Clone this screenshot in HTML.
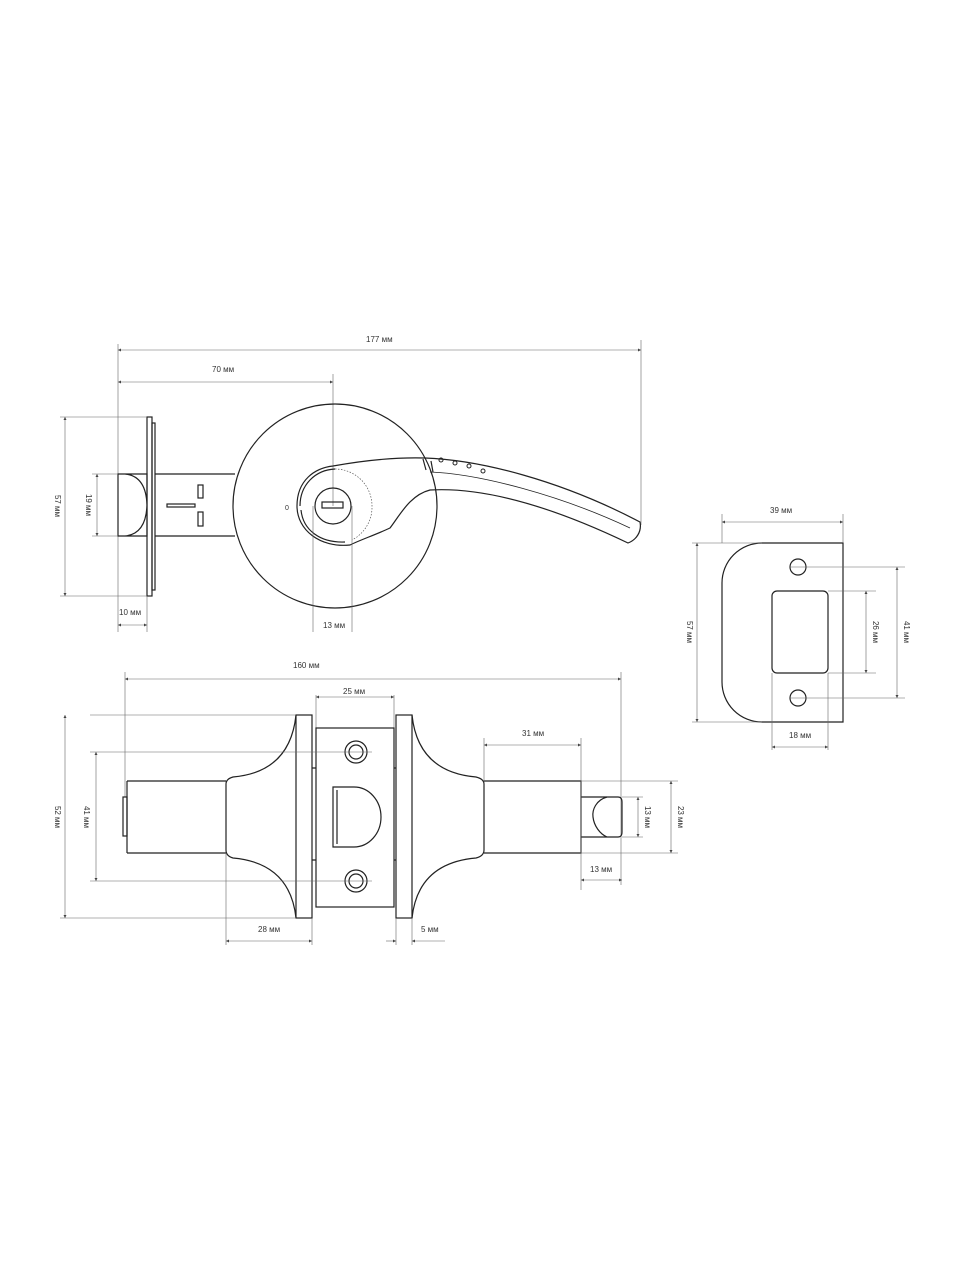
<!DOCTYPE html>
<html><head><meta charset="utf-8"><style>
html,body{margin:0;padding:0;background:#fff;}
svg{display:block;}
text{font-family:"Liberation Sans",sans-serif;font-size:8px;fill:#333;}
.o{fill:none;stroke:#222;stroke-width:1.2;}
.d{fill:none;stroke:#666;stroke-width:0.6;}
</style></head><body>
<svg width="960" height="1280" viewBox="0 0 960 1280" xmlns="http://www.w3.org/2000/svg">
<defs><marker id="a" viewBox="0 0 6 6" refX="6" refY="3" markerWidth="5" markerHeight="5" orient="auto-start-reverse"><path d="M0,0L6,3L0,6z" fill="#444"/></marker></defs>

<!-- TOP VIEW -->
<line class="d" x1="118" y1="350" x2="641" y2="350" marker-start="url(#a)" marker-end="url(#a)"/>
<text x="366" y="342">177 мм</text>
<line class="d" x1="118" y1="382" x2="333" y2="382" marker-start="url(#a)" marker-end="url(#a)"/>
<text x="212" y="372">70 мм</text>
<line class="d" x1="118" y1="344" x2="118" y2="632"/>
<line class="d" x1="641" y1="340" x2="641" y2="525"/>
<line class="d" x1="333" y1="374" x2="333" y2="506"/>
<ellipse class="o" cx="335" cy="506" rx="102" ry="102"/>
<rect class="o" x="147" y="417" width="5" height="179"/>
<rect class="o" x="152" y="423" width="3" height="167"/>
<path class="o" d="M155,474H235M155,536H235"/>
<path class="o" d="M118,474H147V536H118ZM125,474Q146,476 147,505Q146,534 125,536"/>
<rect class="o" x="198" y="485" width="5" height="13"/>
<rect class="o" x="198" y="512" width="5" height="14"/>
<rect class="o" x="167" y="504" width="28" height="3"/>
<text x="285" y="510" style="font-size:7px">0</text>
<path class="o" d="M333,466C355,462 390,457 425,458C480,460 560,480 640,522C642,532 636,540 628,543C580,520 500,486 430,490C410,495 400,515 390,528C375,535 360,540 350,545C320,548 297,530 297,506C297,480 315,468 333,466Z"/>
<path class="o" d="M300,506C300,485 315,470 335,469"/>
<path class="o" d="M301,510C303,530 320,543 345,542"/>
<path class="o" d="M430,472C480,474 560,495 630,528" style="stroke-width:0.8"/>
<path d="M335,469A37,37 0 0 1 372,506A37,37 0 0 1 352,540" fill="none" stroke="#555" stroke-width="0.7" stroke-dasharray="1.5 1.5"/>
<circle class="o" cx="333" cy="506" r="18"/>
<rect class="o" x="322" y="502" width="21" height="6"/>
<path class="o" d="M423,459L426,470M431,461L433,472"/>
<g fill="none" stroke="#222" stroke-width="1"><circle cx="441" cy="460" r="2"/><circle cx="455" cy="463" r="2"/><circle cx="469" cy="466" r="2"/><circle cx="483" cy="471" r="2"/></g>
<line class="d" x1="60" y1="417" x2="147" y2="417"/><line class="d" x1="60" y1="596" x2="147" y2="596"/>
<line class="d" x1="65" y1="417" x2="65" y2="596" marker-start="url(#a)" marker-end="url(#a)"/>
<text transform="translate(55,506) rotate(90)" text-anchor="middle">57 мм</text>
<line class="d" x1="92" y1="474" x2="118" y2="474"/><line class="d" x1="92" y1="536" x2="118" y2="536"/>
<line class="d" x1="97" y1="474" x2="97" y2="536" marker-start="url(#a)" marker-end="url(#a)"/>
<text transform="translate(86,505) rotate(90)" text-anchor="middle">19 мм</text>
<line class="d" x1="147" y1="596" x2="147" y2="632"/>
<line class="d" x1="118" y1="625" x2="147" y2="625" marker-start="url(#a)" marker-end="url(#a)"/>
<text x="119" y="615">10 мм</text>
<line class="d" x1="313" y1="506" x2="313" y2="632"/><line class="d" x1="352" y1="506" x2="352" y2="632"/>
<text x="323" y="628">13 мм</text>

<!-- STRIKE PLATE -->
<path class="o" d="M762,543H843V722H762A40,40 0 0 1 722,682V583A40,40 0 0 1 762,543Z"/>
<circle class="o" cx="798" cy="567" r="8"/><circle class="o" cx="798" cy="698" r="8"/>
<rect class="o" x="772" y="591" width="56" height="82" rx="5"/>
<line class="d" x1="722" y1="514" x2="722" y2="543"/><line class="d" x1="843" y1="514" x2="843" y2="543"/>
<line class="d" x1="722" y1="522" x2="843" y2="522" marker-start="url(#a)" marker-end="url(#a)"/>
<text x="770" y="513">39 мм</text>
<line class="d" x1="692" y1="543" x2="762" y2="543"/><line class="d" x1="692" y1="722" x2="762" y2="722"/>
<line class="d" x1="697" y1="543" x2="697" y2="722" marker-start="url(#a)" marker-end="url(#a)"/>
<text transform="translate(687,632) rotate(90)" text-anchor="middle">57 мм</text>
<line class="d" x1="828" y1="591" x2="876" y2="591"/><line class="d" x1="828" y1="673" x2="876" y2="673"/>
<line class="d" x1="866" y1="591" x2="866" y2="673" marker-start="url(#a)" marker-end="url(#a)"/>
<text transform="translate(873,632) rotate(90)" text-anchor="middle">26 мм</text>
<line class="d" x1="790" y1="567" x2="905" y2="567"/><line class="d" x1="790" y1="698" x2="905" y2="698"/>
<line class="d" x1="897" y1="567" x2="897" y2="698" marker-start="url(#a)" marker-end="url(#a)"/>
<text transform="translate(904,632) rotate(90)" text-anchor="middle">41 мм</text>
<line class="d" x1="772" y1="673" x2="772" y2="750"/><line class="d" x1="828" y1="673" x2="828" y2="750"/>
<line class="d" x1="772" y1="747" x2="828" y2="747" marker-start="url(#a)" marker-end="url(#a)"/>
<text x="789" y="738">18 мм</text>

<!-- BOTTOM VIEW -->
<line class="d" x1="125" y1="679" x2="621" y2="679" marker-start="url(#a)" marker-end="url(#a)"/>
<text x="293" y="668">160 мм</text>
<line class="d" x1="125" y1="672" x2="125" y2="797"/><line class="d" x1="621" y1="672" x2="621" y2="885"/>
<line class="d" x1="316" y1="697" x2="394" y2="697" marker-start="url(#a)" marker-end="url(#a)"/>
<line class="d" x1="316" y1="695" x2="316" y2="728"/><line class="d" x1="394" y1="695" x2="394" y2="728"/>
<text x="343" y="694">25 мм</text>
<rect class="o" x="296" y="715" width="16" height="203"/>
<rect class="o" x="396" y="715" width="16" height="203"/>
<rect class="o" x="316" y="728" width="78" height="179"/>
<path class="o" d="M312,768H316M312,860H316M394,768H396M394,860H396"/>
<circle class="o" cx="356" cy="752" r="11"/><circle class="o" cx="356" cy="752" r="7"/>
<circle class="o" cx="356" cy="881" r="11"/><circle class="o" cx="356" cy="881" r="7"/>
<path class="o" d="M333,787H354A27,30 0 0 1 354,847H333Z"/>
<path class="o" d="M337,790V844"/>
<path class="o" d="M296,715Q290,772 233,777Q226,779 226,784V850Q226,856 233,858Q290,863 296,918"/>
<path class="o" d="M127,781H226M127,853H226M127,781V853"/>
<rect class="o" x="123" y="797" width="4" height="39"/>
<path class="o" d="M412,715Q418,772 476,777Q484,779 484,784V850Q484,856 476,858Q418,863 412,918"/>
<path class="o" d="M484,781H581V853H484"/>
<path class="o" d="M581,797H618Q622,797 622,802V832Q622,837 618,837H581"/>
<path class="o" d="M607,797C596,800 592,810 593,817C594,826 600,834 607,837"/>
<line class="d" x1="90" y1="715" x2="296" y2="715"/><line class="d" x1="60" y1="918" x2="296" y2="918"/>
<line class="d" x1="65" y1="715" x2="65" y2="918" marker-start="url(#a)" marker-end="url(#a)"/>
<text transform="translate(55,817) rotate(90)" text-anchor="middle">52 мм</text>
<line class="d" x1="90" y1="752" x2="372" y2="752"/><line class="d" x1="90" y1="881" x2="372" y2="881"/>
<line class="d" x1="96" y1="752" x2="96" y2="881" marker-start="url(#a)" marker-end="url(#a)"/>
<text transform="translate(84,817) rotate(90)" text-anchor="middle">41 мм</text>
<line class="d" x1="484" y1="738" x2="484" y2="781"/><line class="d" x1="581" y1="738" x2="581" y2="890"/>
<line class="d" x1="484" y1="745" x2="581" y2="745" marker-start="url(#a)" marker-end="url(#a)"/>
<text x="522" y="736">31 мм</text>
<line class="d" x1="622" y1="797" x2="643" y2="797"/><line class="d" x1="622" y1="837" x2="643" y2="837"/>
<line class="d" x1="638" y1="797" x2="638" y2="837" marker-start="url(#a)" marker-end="url(#a)"/>
<text transform="translate(645,817) rotate(90)" text-anchor="middle">13 мм</text>
<line class="d" x1="581" y1="781" x2="678" y2="781"/><line class="d" x1="581" y1="853" x2="678" y2="853"/>
<line class="d" x1="671" y1="781" x2="671" y2="853" marker-start="url(#a)" marker-end="url(#a)"/>
<text transform="translate(678,817) rotate(90)" text-anchor="middle">23 мм</text>
<line class="d" x1="581" y1="880" x2="622" y2="880" marker-start="url(#a)" marker-end="url(#a)"/>
<text x="590" y="872">13 мм</text>
<line class="d" x1="226" y1="853" x2="226" y2="945"/><line class="d" x1="312" y1="918" x2="312" y2="945"/>
<line class="d" x1="226" y1="941" x2="312" y2="941" marker-start="url(#a)" marker-end="url(#a)"/>
<text x="258" y="932">28 мм</text>
<line class="d" x1="396" y1="918" x2="396" y2="945"/><line class="d" x1="412" y1="918" x2="412" y2="945"/>
<line class="d" x1="386" y1="941" x2="396" y2="941" marker-end="url(#a)"/>
<line class="d" x1="445" y1="941" x2="412" y2="941" marker-end="url(#a)"/>
<text x="421" y="932">5 мм</text>
</svg>
</body></html>
